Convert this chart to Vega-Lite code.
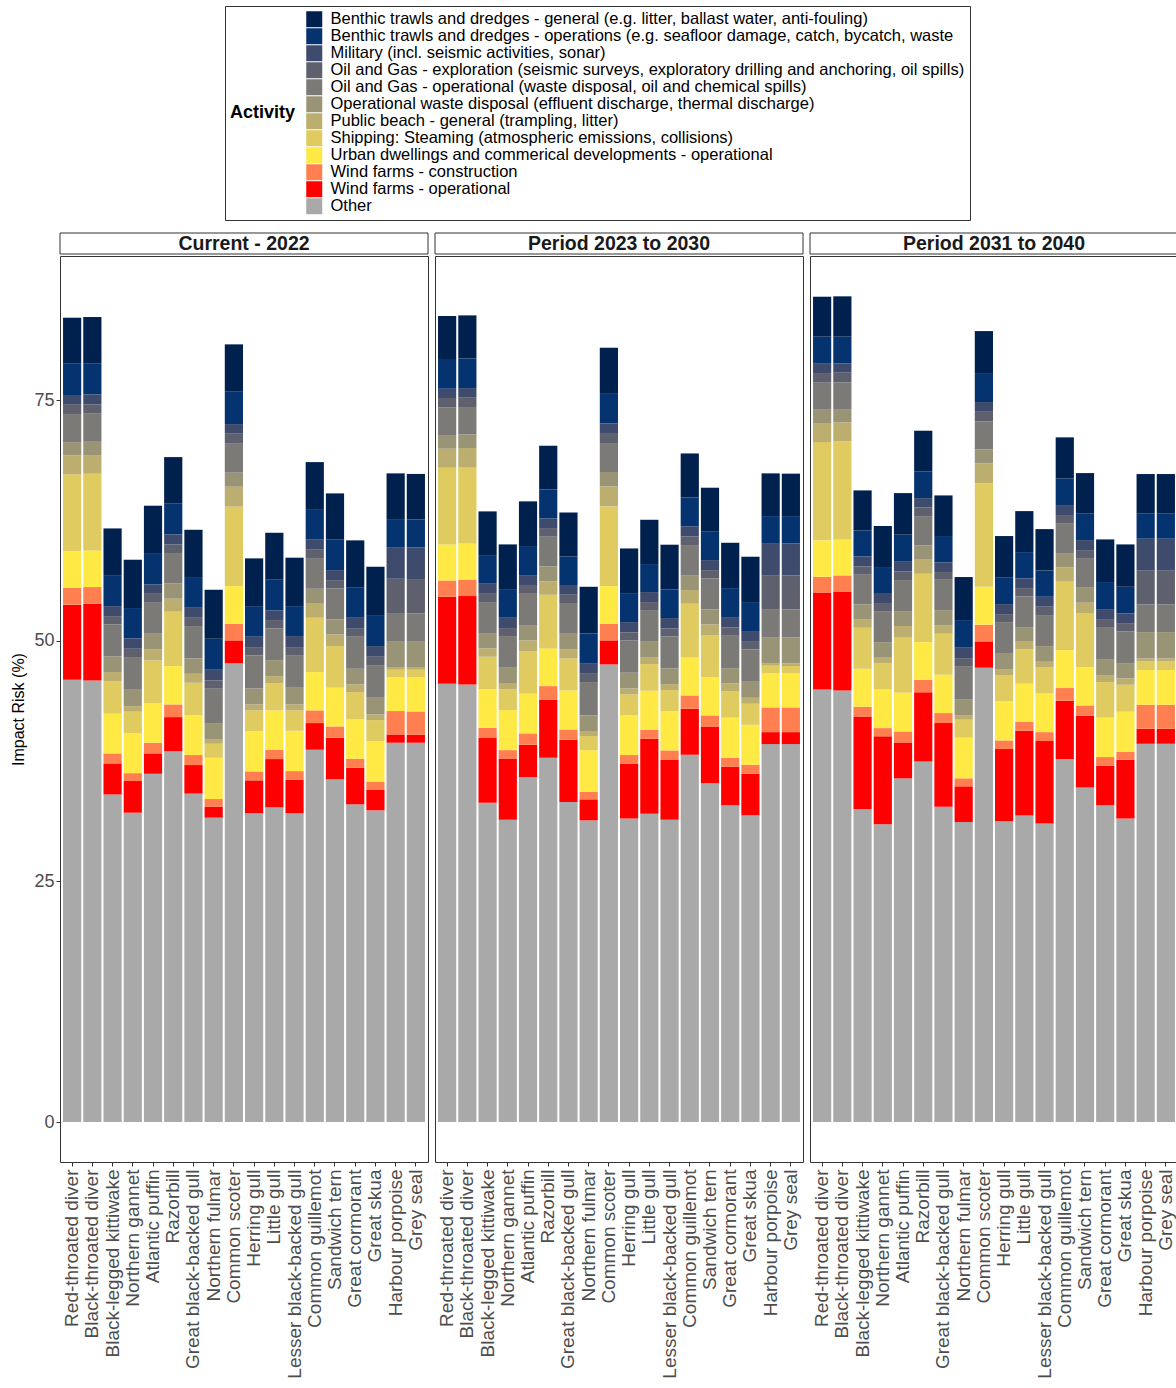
{
"$schema": "https://vega.github.io/schema/vega-lite/v6.json",
"padding": {"left": 10, "top": 5, "right": 0, "bottom": 0},
"data": {"values": [
{"p":"Current - 2022","s":"Red-throated diver","a12":4.78,"a11":3.25,"a10":1.01,"a09":0.97,"a08":2.91,"a07":1.38,"a06":1.97,"a05":7.97,"a04":3.81,"a03":1.76,"a02":7.79,"a01":45.95},
{"p":"Current - 2022","s":"Black-throated diver","a12":4.85,"a11":3.19,"a10":1.04,"a09":0.96,"a08":2.84,"a07":1.46,"a06":1.94,"a05":7.96,"a04":3.81,"a03":1.73,"a02":7.97,"a01":45.87},
{"p":"Current - 2022","s":"Black-legged kittiwake","a12":4.85,"a11":3.22,"a10":1.04,"a09":0.86,"a08":3.32,"a07":1.63,"a06":0.94,"a05":3.39,"a04":4.12,"a03":1.04,"a02":3.23,"a01":34.02},
{"p":"Current - 2022","s":"Northern gannet","a12":5.02,"a11":3.15,"a10":1.08,"a09":0.86,"a08":3.40,"a07":1.70,"a06":0.58,"a05":2.22,"a04":4.16,"a03":0.82,"a02":3.29,"a01":32.13},
{"p":"Current - 2022","s":"Atlantic puffin","a12":4.92,"a11":3.26,"a10":0.97,"a09":0.93,"a08":3.22,"a07":1.63,"a06":1.14,"a05":4.47,"a04":4.08,"a03":1.11,"a02":2.12,"a01":36.17},
{"p":"Current - 2022","s":"Razorbill","a12":4.84,"a11":3.19,"a10":1.04,"a09":0.90,"a08":3.15,"a07":1.59,"a06":1.35,"a05":5.65,"a04":3.98,"a03":1.32,"a02":3.56,"a01":38.50},
{"p":"Current - 2022","s":"Great black-backed gull","a12":4.91,"a11":3.19,"a10":1.04,"a09":0.86,"a08":3.36,"a07":1.60,"a06":0.93,"a05":3.39,"a04":4.12,"a03":1.04,"a02":2.97,"a01":34.11},
{"p":"Current - 2022","s":"Northern fulmar","a12":5.09,"a11":3.22,"a10":1.11,"a09":0.86,"a08":3.57,"a07":1.66,"a06":0.49,"a05":1.45,"a04":4.29,"a03":0.79,"a02":1.15,"a01":31.61},
{"p":"Current - 2022","s":"Common scoter","a12":4.92,"a11":3.36,"a10":1.00,"a09":1.04,"a08":3.01,"a07":1.46,"a06":2.07,"a05":8.25,"a04":3.91,"a03":1.73,"a02":2.39,"a01":47.64},
{"p":"Current - 2022","s":"Herring gull","a12":4.96,"a11":3.18,"a10":1.08,"a09":0.86,"a08":3.43,"a07":1.66,"a06":0.62,"a05":2.15,"a04":4.19,"a03":0.93,"a02":3.43,"a01":32.06},
{"p":"Current - 2022","s":"Little gull","a12":4.88,"a11":3.19,"a10":1.00,"a09":0.87,"a08":3.29,"a07":1.66,"a06":0.76,"a05":2.80,"a04":4.09,"a03":0.97,"a02":5.01,"a01":32.69},
{"p":"Current - 2022","s":"Lesser black-backed gull","a12":5.03,"a11":3.11,"a10":1.15,"a09":0.83,"a08":3.39,"a07":1.73,"a06":0.62,"a05":2.12,"a04":4.19,"a03":0.89,"a02":3.50,"a01":32.06},
{"p":"Current - 2022","s":"Common guillemot","a12":4.88,"a11":3.18,"a10":1.04,"a09":0.87,"a08":3.19,"a07":1.55,"a06":1.46,"a05":5.64,"a04":3.98,"a03":1.32,"a02":2.77,"a01":38.67},
{"p":"Current - 2022","s":"Sandwich tern","a12":4.81,"a11":3.16,"a10":1.04,"a09":0.86,"a08":3.22,"a07":1.56,"a06":1.21,"a05":4.33,"a04":4.02,"a03":1.17,"a02":4.33,"a01":35.59},
{"p":"Current - 2022","s":"Great cormorant","a12":4.92,"a11":3.12,"a10":1.14,"a09":0.83,"a08":3.33,"a07":1.62,"a06":0.80,"a05":2.84,"a04":4.09,"a03":0.93,"a02":3.80,"a01":33.00},
{"p":"Current - 2022","s":"Great skua","a12":5.02,"a11":3.22,"a10":1.11,"a09":0.87,"a08":3.39,"a07":1.73,"a06":0.59,"a05":2.18,"a04":4.25,"a03":0.83,"a02":2.12,"a01":32.37},
{"p":"Current - 2022","s":"Harbour porpoise","a12":4.75,"a11":2.91,"a10":3.29,"a09":3.56,"a08":2.91,"a07":2.70,"a06":0.28,"a05":0.76,"a04":3.53,"a03":2.43,"a02":0.86,"a01":39.40},
{"p":"Current - 2022","s":"Grey seal","a12":4.72,"a11":2.91,"a10":3.29,"a09":3.57,"a08":2.87,"a07":2.70,"a06":0.28,"a05":0.76,"a04":3.57,"a03":2.42,"a02":0.83,"a01":39.40},
{"p":"Period 2023 to 2030","s":"Red-throated diver","a12":4.47,"a11":3.08,"a10":0.97,"a09":0.97,"a08":2.87,"a07":1.42,"a06":1.97,"a05":7.97,"a04":3.74,"a03":1.70,"a02":9.03,"a01":45.53},
{"p":"Period 2023 to 2030","s":"Black-throated diver","a12":4.47,"a11":3.08,"a10":1.00,"a09":0.97,"a08":2.84,"a07":1.42,"a06":1.98,"a05":7.93,"a04":3.77,"a03":1.70,"a02":9.17,"a01":45.46},
{"p":"Period 2023 to 2030","s":"Black-legged kittiwake","a12":4.54,"a11":2.91,"a10":1.11,"a09":0.86,"a08":3.22,"a07":1.59,"a06":0.87,"a05":3.36,"a04":4.02,"a03":1.07,"a02":6.71,"a01":33.17},
{"p":"Period 2023 to 2030","s":"Northern gannet","a12":4.64,"a11":2.91,"a10":1.14,"a09":0.83,"a08":3.29,"a07":1.66,"a06":0.59,"a05":2.15,"a04":4.16,"a03":0.86,"a02":6.37,"a01":31.40},
{"p":"Period 2023 to 2030","s":"Atlantic puffin","a12":4.64,"a11":3.02,"a10":1.03,"a09":0.91,"a08":3.25,"a07":1.59,"a06":1.15,"a05":4.39,"a04":4.12,"a03":1.18,"a02":3.35,"a01":35.84},
{"p":"Period 2023 to 2030","s":"Razorbill","a12":4.54,"a11":3.01,"a10":1.00,"a09":0.90,"a08":3.08,"a07":1.56,"a06":1.39,"a05":5.57,"a04":3.92,"a03":1.42,"a02":6.02,"a01":37.84},
{"p":"Period 2023 to 2030","s":"Great black-backed gull","a12":4.57,"a11":2.97,"a10":1.01,"a09":0.86,"a08":3.19,"a07":1.63,"a06":0.93,"a05":3.33,"a04":4.05,"a03":1.07,"a02":6.47,"a01":33.24},
{"p":"Period 2023 to 2030","s":"Northern fulmar","a12":4.85,"a11":3.08,"a10":1.11,"a09":0.86,"a08":3.46,"a07":1.70,"a06":0.45,"a05":1.46,"a04":4.32,"a03":0.79,"a02":2.19,"a01":31.33},
{"p":"Period 2023 to 2030","s":"Common scoter","a12":4.71,"a11":3.15,"a10":1.00,"a09":1.04,"a08":3.01,"a07":1.49,"a06":2.08,"a05":8.28,"a04":3.91,"a03":1.73,"a02":2.50,"a01":47.53},
{"p":"Period 2023 to 2030","s":"Herring gull","a12":4.64,"a11":3.01,"a10":1.07,"a09":0.83,"a08":3.36,"a07":1.63,"a06":0.62,"a05":2.18,"a04":4.12,"a03":0.91,"a02":5.67,"a01":31.54},
{"p":"Period 2023 to 2030","s":"Little gull","a12":4.60,"a11":2.91,"a10":1.04,"a09":0.83,"a08":3.29,"a07":1.59,"a06":0.73,"a05":2.77,"a04":4.05,"a03":0.94,"a02":7.78,"a01":32.03},
{"p":"Period 2023 to 2030","s":"Lesser black-backed gull","a12":4.64,"a11":2.98,"a10":1.08,"a09":0.83,"a08":3.32,"a07":1.63,"a06":0.62,"a05":2.18,"a04":4.09,"a03":0.94,"a02":6.26,"a01":31.40},
{"p":"Period 2023 to 2030","s":"Common guillemot","a12":4.57,"a11":3.01,"a10":1.04,"a09":0.90,"a08":3.12,"a07":1.55,"a06":1.42,"a05":5.58,"a04":3.95,"a03":1.38,"a02":4.78,"a01":38.15},
{"p":"Period 2023 to 2030","s":"Sandwich tern","a12":4.57,"a11":2.95,"a10":1.04,"a09":0.86,"a08":3.22,"a07":1.56,"a06":1.11,"a05":4.36,"a04":3.98,"a03":1.15,"a02":5.91,"a01":35.18},
{"p":"Period 2023 to 2030","s":"Great cormorant","a12":4.71,"a11":3.01,"a10":1.07,"a09":0.87,"a08":3.36,"a07":1.59,"a06":0.80,"a05":2.76,"a04":4.16,"a03":0.94,"a02":4.01,"a01":32.89},
{"p":"Period 2023 to 2030","s":"Great skua","a12":4.71,"a11":3.01,"a10":1.04,"a09":0.87,"a08":3.36,"a07":1.66,"a06":0.62,"a05":2.19,"a04":4.15,"a03":0.93,"a02":4.33,"a01":31.85},
{"p":"Period 2023 to 2030","s":"Harbour porpoise","a12":4.44,"a11":2.80,"a10":3.33,"a09":3.53,"a08":2.91,"a07":2.70,"a06":0.27,"a05":0.77,"a04":3.56,"a03":2.57,"a02":1.24,"a01":39.26},
{"p":"Period 2023 to 2030","s":"Grey seal","a12":4.41,"a11":2.83,"a10":3.33,"a09":3.53,"a08":2.91,"a07":2.70,"a06":0.27,"a05":0.77,"a04":3.53,"a03":2.57,"a02":1.24,"a01":39.26},
{"p":"Period 2031 to 2040","s":"Red-throated diver","a12":4.15,"a11":2.81,"a10":0.97,"a09":1.00,"a08":2.81,"a07":1.38,"a06":1.98,"a05":10.21,"a04":3.78,"a03":1.63,"a02":10.07,"a01":44.94},
{"p":"Period 2031 to 2040","s":"Black-throated diver","a12":4.19,"a11":2.77,"a10":0.97,"a09":1.01,"a08":2.77,"a07":1.38,"a06":1.98,"a05":10.18,"a04":3.74,"a03":1.66,"a02":10.29,"a01":44.83},
{"p":"Period 2031 to 2040","s":"Black-legged kittiwake","a12":4.15,"a11":2.71,"a10":1.03,"a09":0.87,"a08":3.08,"a07":1.53,"a06":0.90,"a05":4.26,"a04":3.94,"a03":1.01,"a02":9.62,"a01":32.51},
{"p":"Period 2031 to 2040","s":"Northern gannet","a12":4.26,"a11":2.70,"a10":1.04,"a09":0.84,"a08":3.22,"a07":1.62,"a06":0.56,"a05":2.73,"a04":4.02,"a03":0.86,"a02":9.14,"a01":30.92},
{"p":"Period 2031 to 2040","s":"Atlantic puffin","a12":4.32,"a11":2.81,"a10":1.00,"a09":0.90,"a08":3.23,"a07":1.55,"a06":1.21,"a05":5.72,"a04":4.02,"a03":1.14,"a02":3.73,"a01":35.70},
{"p":"Period 2031 to 2040","s":"Razorbill","a12":4.22,"a11":2.78,"a10":0.96,"a09":0.91,"a08":3.04,"a07":1.49,"a06":1.46,"a05":7.10,"a04":3.91,"a03":1.31,"a02":7.17,"a01":37.46},
{"p":"Period 2031 to 2040","s":"Great black-backed gull","a12":4.22,"a11":2.74,"a10":1.00,"a09":0.80,"a08":3.15,"a07":1.59,"a06":0.87,"a05":4.26,"a04":3.98,"a03":1.04,"a02":8.69,"a01":32.75},
{"p":"Period 2031 to 2040","s":"Northern fulmar","a12":4.47,"a11":2.87,"a10":1.08,"a09":0.83,"a08":3.43,"a07":1.66,"a06":0.48,"a05":1.87,"a04":4.22,"a03":0.83,"a02":3.71,"a01":31.16},
{"p":"Period 2031 to 2040","s":"Common scoter","a12":4.36,"a11":3.01,"a10":1.01,"a09":1.00,"a08":2.91,"a07":1.45,"a06":2.08,"a05":10.74,"a04":3.94,"a03":1.74,"a02":2.73,"a01":47.19},
{"p":"Period 2031 to 2040","s":"Herring gull","a12":4.33,"a11":2.74,"a10":1.04,"a09":0.83,"a08":3.29,"a07":1.59,"a06":0.62,"a05":2.74,"a04":4.05,"a03":0.90,"a02":7.51,"a01":31.23},
{"p":"Period 2031 to 2040","s":"Little gull","a12":4.26,"a11":2.73,"a10":1.01,"a09":0.86,"a08":3.19,"a07":1.52,"a06":0.80,"a05":3.56,"a04":3.95,"a03":0.94,"a02":8.79,"a01":31.85},
{"p":"Period 2031 to 2040","s":"Lesser black-backed gull","a12":4.29,"a11":2.74,"a10":1.03,"a09":0.87,"a08":3.22,"a07":1.63,"a06":0.55,"a05":2.74,"a04":4.02,"a03":0.93,"a02":8.55,"a01":31.02},
{"p":"Period 2031 to 2040","s":"Common guillemot","a12":4.26,"a11":2.77,"a10":1.04,"a09":0.90,"a08":3.05,"a07":1.49,"a06":1.42,"a05":7.17,"a04":3.94,"a03":1.32,"a02":6.06,"a01":37.70},
{"p":"Period 2031 to 2040","s":"Sandwich tern","a12":4.22,"a11":2.74,"a10":1.04,"a09":0.83,"a08":3.08,"a07":1.56,"a06":1.07,"a05":5.61,"a04":3.99,"a03":1.07,"a02":7.44,"a01":34.76},
{"p":"Period 2031 to 2040","s":"Great cormorant","a12":4.43,"a11":2.81,"a10":1.11,"a09":0.83,"a08":3.25,"a07":1.66,"a06":0.73,"a05":3.70,"a04":4.09,"a03":0.90,"a02":4.12,"a01":32.89},
{"p":"Period 2031 to 2040","s":"Great skua","a12":4.40,"a11":2.77,"a10":1.07,"a09":0.80,"a08":3.29,"a07":1.59,"a06":0.66,"a05":2.80,"a04":4.16,"a03":0.83,"a02":6.09,"a01":31.54},
{"p":"Period 2031 to 2040","s":"Harbour porpoise","a12":4.12,"a11":2.60,"a10":3.32,"a09":3.50,"a08":2.88,"a07":2.73,"a06":0.28,"a05":0.93,"a04":3.61,"a03":2.49,"a02":1.56,"a01":39.29},
{"p":"Period 2031 to 2040","s":"Grey seal","a12":4.12,"a11":2.60,"a10":3.32,"a09":3.50,"a08":2.88,"a07":2.73,"a06":0.28,"a05":0.93,"a04":3.61,"a03":2.49,"a02":1.56,"a01":39.29}
]},
"transform": [{"fold": ["a01","a02","a03","a04","a05","a06","a07","a08","a09","a10","a11","a12"], "as": ["act", "risk"]}],
"config": {
  "font": "Liberation Sans",
  "view": {"stroke": "#333333", "strokeWidth": 1},
  "axis": {"labelFont": "Liberation Sans", "labelFontSize": 19, "labelColor": "#4D4D4D", "labelLimit": 0, "tickColor": "#333333", "tickSize": 4, "domain": false, "grid": false, "titleFont": "Liberation Sans", "titleFontSize": 16, "titleFontWeight": "normal", "titleColor": "#000000"},
  "legend": {"direction": "vertical", "titleOrient": "left", "titleAngle": 0, "titleAnchor": "middle", "titleBaseline": "middle", "titleFontSize": 18, "titleFontWeight": "bold", "titleFont": "Liberation Sans", "titleColor": "#000000", "titlePadding": 10, "labelFontSize": 16.5, "labelFont": "Liberation Sans", "labelColor": "#000000", "labelLimit": 0, "labelOffset": 8, "symbolType": "square", "symbolSize": 256, "symbolStrokeWidth": 0, "rowPadding": 0, "strokeColor": "#333333", "padding": 5}
},
"spacing": 5,
"resolve": {"scale": {"color": "shared"}, "legend": {"color": "shared"}},
"hconcat": [
 {"spacing": 0, "vconcat": [
  {"width": 368, "height": 21, "data": {"values": [{"p": "Current - 2022"}]},
   "layer": [
    {"mark": {"type": "rect", "fill": "white", "stroke": "#333333", "strokeWidth": 1}, "encoding": {}},
    {"mark": {"type": "text", "fontWeight": "bold", "fontSize": 19.5, "font": "Liberation Sans", "color": "#1A1A1A", "baseline": "middle"}, "encoding": {"text": {"field": "p"}}}
   ]},
  {"width": 368, "height": 906,
   "transform": [{"filter": {"field": "p", "equal": "Current - 2022"}}],
   "mark": {"type": "bar"},
   "encoding": {
    "x": {"field": "s", "type": "nominal", "sort": ["Red-throated diver","Black-throated diver","Black-legged kittiwake","Northern gannet","Atlantic puffin","Razorbill","Great black-backed gull","Northern fulmar","Common scoter","Herring gull","Little gull","Lesser black-backed gull","Common guillemot","Sandwich tern","Great cormorant","Great skua","Harbour porpoise","Grey seal"], "scale": {"paddingInner": 0.1, "paddingOuter": 0.15}, "axis": {"title": null, "labelAngle": -90, "labelPadding": 3}},
    "y": {"field": "risk", "type": "quantitative", "stack": "zero", "scale": {"domain": [-4.155, 89.96], "nice": false, "zero": false}, "axis": {"title": "Impact Risk (%)", "values": [0, 25, 50, 75], "labelFontSize": 18, "titlePadding": 7}},
    "color": {"field": "act", "type": "nominal", "scale": {"domain": ["a12","a11","a10","a09","a08","a07","a06","a05","a04","a03","a02","a01"], "range": ["#00204D","#05336F","#3F4B6C","#5E606E","#7B7A77","#9A9477","#BCAE6F","#DFCB60","#FFE945","#FF7F50","#FF0000","#A9A9A9"]}, "legend": {"title": "Activity", "orient": "none", "legendX": 165, "legendY": -227, "labelExpr": "{'a12':'Benthic trawls and dredges - general (e.g. litter, ballast water, anti-fouling)','a11':'Benthic trawls and dredges - operations (e.g. seafloor damage, catch, bycatch, waste','a10':'Military (incl. seismic activities, sonar)','a09':'Oil and Gas - exploration (seismic surveys, exploratory drilling and anchoring, oil spills)','a08':'Oil and Gas - operational (waste disposal, oil and chemical spills)','a07':'Operational waste disposal (effluent discharge, thermal discharge)','a06':'Public beach - general (trampling, litter)','a05':'Shipping: Steaming (atmospheric emissions, collisions)','a04':'Urban dwellings and commerical developments - operational','a03':'Wind farms - construction','a02':'Wind farms - operational','a01':'Other'}[datum.label]"}},
    "order": {"field": "act", "sort": "ascending"}
   }
  }
 ]},
 {"spacing": 0, "vconcat": [
  {"width": 368, "height": 21, "data": {"values": [{"p": "Period 2023 to 2030"}]},
   "layer": [
    {"mark": {"type": "rect", "fill": "white", "stroke": "#333333", "strokeWidth": 1}, "encoding": {}},
    {"mark": {"type": "text", "fontWeight": "bold", "fontSize": 19.5, "font": "Liberation Sans", "color": "#1A1A1A", "baseline": "middle"}, "encoding": {"text": {"field": "p"}}}
   ]},
  {"width": 368, "height": 906,
   "transform": [{"filter": {"field": "p", "equal": "Period 2023 to 2030"}}],
   "mark": {"type": "bar"},
   "encoding": {
    "x": {"field": "s", "type": "nominal", "sort": ["Red-throated diver","Black-throated diver","Black-legged kittiwake","Northern gannet","Atlantic puffin","Razorbill","Great black-backed gull","Northern fulmar","Common scoter","Herring gull","Little gull","Lesser black-backed gull","Common guillemot","Sandwich tern","Great cormorant","Great skua","Harbour porpoise","Grey seal"], "scale": {"paddingInner": 0.1, "paddingOuter": 0.15}, "axis": {"title": null, "labelAngle": -90, "labelPadding": 3}},
    "y": {"field": "risk", "type": "quantitative", "stack": "zero", "scale": {"domain": [-4.155, 89.96], "nice": false, "zero": false}, "axis": null},
    "color": {"field": "act", "type": "nominal", "scale": {"domain": ["a12","a11","a10","a09","a08","a07","a06","a05","a04","a03","a02","a01"], "range": ["#00204D","#05336F","#3F4B6C","#5E606E","#7B7A77","#9A9477","#BCAE6F","#DFCB60","#FFE945","#FF7F50","#FF0000","#A9A9A9"]}, "legend": {"title": "Activity", "orient": "none", "legendX": 165, "legendY": -227, "labelExpr": "{'a12':'Benthic trawls and dredges - general (e.g. litter, ballast water, anti-fouling)','a11':'Benthic trawls and dredges - operations (e.g. seafloor damage, catch, bycatch, waste','a10':'Military (incl. seismic activities, sonar)','a09':'Oil and Gas - exploration (seismic surveys, exploratory drilling and anchoring, oil spills)','a08':'Oil and Gas - operational (waste disposal, oil and chemical spills)','a07':'Operational waste disposal (effluent discharge, thermal discharge)','a06':'Public beach - general (trampling, litter)','a05':'Shipping: Steaming (atmospheric emissions, collisions)','a04':'Urban dwellings and commerical developments - operational','a03':'Wind farms - construction','a02':'Wind farms - operational','a01':'Other'}[datum.label]"}},
    "order": {"field": "act", "sort": "ascending"}
   }
  }
 ]},
 {"spacing": 0, "vconcat": [
  {"width": 368, "height": 21, "data": {"values": [{"p": "Period 2031 to 2040"}]},
   "layer": [
    {"mark": {"type": "rect", "fill": "white", "stroke": "#333333", "strokeWidth": 1}, "encoding": {}},
    {"mark": {"type": "text", "fontWeight": "bold", "fontSize": 19.5, "font": "Liberation Sans", "color": "#1A1A1A", "baseline": "middle"}, "encoding": {"text": {"field": "p"}}}
   ]},
  {"width": 368, "height": 906,
   "transform": [{"filter": {"field": "p", "equal": "Period 2031 to 2040"}}],
   "mark": {"type": "bar"},
   "encoding": {
    "x": {"field": "s", "type": "nominal", "sort": ["Red-throated diver","Black-throated diver","Black-legged kittiwake","Northern gannet","Atlantic puffin","Razorbill","Great black-backed gull","Northern fulmar","Common scoter","Herring gull","Little gull","Lesser black-backed gull","Common guillemot","Sandwich tern","Great cormorant","Great skua","Harbour porpoise","Grey seal"], "scale": {"paddingInner": 0.1, "paddingOuter": 0.15}, "axis": {"title": null, "labelAngle": -90, "labelPadding": 3}},
    "y": {"field": "risk", "type": "quantitative", "stack": "zero", "scale": {"domain": [-4.155, 89.96], "nice": false, "zero": false}, "axis": null},
    "color": {"field": "act", "type": "nominal", "scale": {"domain": ["a12","a11","a10","a09","a08","a07","a06","a05","a04","a03","a02","a01"], "range": ["#00204D","#05336F","#3F4B6C","#5E606E","#7B7A77","#9A9477","#BCAE6F","#DFCB60","#FFE945","#FF7F50","#FF0000","#A9A9A9"]}, "legend": {"title": "Activity", "orient": "none", "legendX": 165, "legendY": -227, "labelExpr": "{'a12':'Benthic trawls and dredges - general (e.g. litter, ballast water, anti-fouling)','a11':'Benthic trawls and dredges - operations (e.g. seafloor damage, catch, bycatch, waste','a10':'Military (incl. seismic activities, sonar)','a09':'Oil and Gas - exploration (seismic surveys, exploratory drilling and anchoring, oil spills)','a08':'Oil and Gas - operational (waste disposal, oil and chemical spills)','a07':'Operational waste disposal (effluent discharge, thermal discharge)','a06':'Public beach - general (trampling, litter)','a05':'Shipping: Steaming (atmospheric emissions, collisions)','a04':'Urban dwellings and commerical developments - operational','a03':'Wind farms - construction','a02':'Wind farms - operational','a01':'Other'}[datum.label]"}},
    "order": {"field": "act", "sort": "ascending"}
   }
  }
 ]}
]
}
